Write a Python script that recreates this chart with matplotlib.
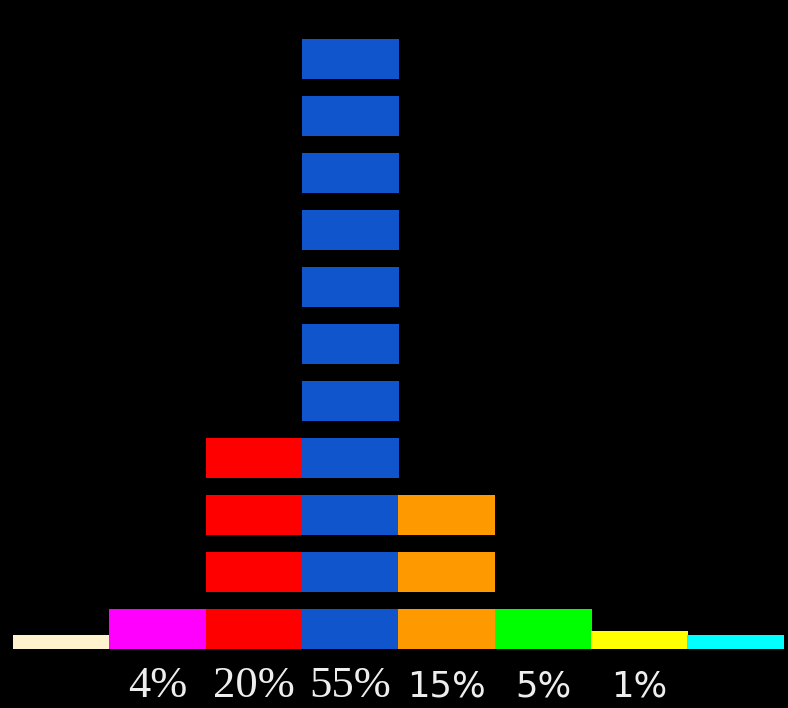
import matplotlib
matplotlib.use('Agg')
import matplotlib.pyplot as plt
from matplotlib.patches import Rectangle

# one column per party, stacked blocks of equal height
colors = ['#FFF2CC', '#FF00FF', '#FF0000', '#1155CC',
          '#FF9900', '#00FF00', '#FFFF00', '#00FFFF']
labels = ['', '4%', '20%', '55%', '15%', '5%', '1%', '']
full_blocks = [0, 1, 4, 11, 3, 1, 0, 0]
partial = [0.35, 0, 0, 0, 0, 0, 0.45, 0.35]
label_fonts = ['DejaVu Sans', 'Liberation Serif', 'Liberation Serif', 'Liberation Serif',
               'DejaVu Sans', 'DejaVu Sans', 'DejaVu Sans', 'DejaVu Sans']
label_sizes = [25, 32, 32, 32, 25.5, 25.5, 25.5, 25]

col_px = 96.3     # pixels per column
pitch = 57 / 40   # row spacing in block heights
width = 97 / col_px

fig = plt.figure(figsize=(7.88, 7.08), dpi=100, facecolor='black')
ax = fig.add_axes([0, 0, 1, 1])
ax.set_facecolor('black')

for i, col in enumerate(colors):
    x0 = i - width / 2
    for r in range(full_blocks[i]):
        ax.add_patch(Rectangle((x0, r * pitch), width, 1, color=col, lw=0))
    if partial[i]:
        ax.add_patch(Rectangle((x0, 0), width, partial[i], color=col, lw=0))
    if labels[i]:
        ax.text(i, -0.93, labels[i], color='#EEEEEE', ha='center', va='center',
                fontsize=label_sizes[i], family=label_fonts[i])

ax.set_xlim(-61.5 / col_px, (788 - 61.5) / col_px)
ax.set_ylim(-(708 - 649) / 40, 649 / 40)
ax.axis('off')

fig.savefig('out.png', dpi=100, facecolor='black')
